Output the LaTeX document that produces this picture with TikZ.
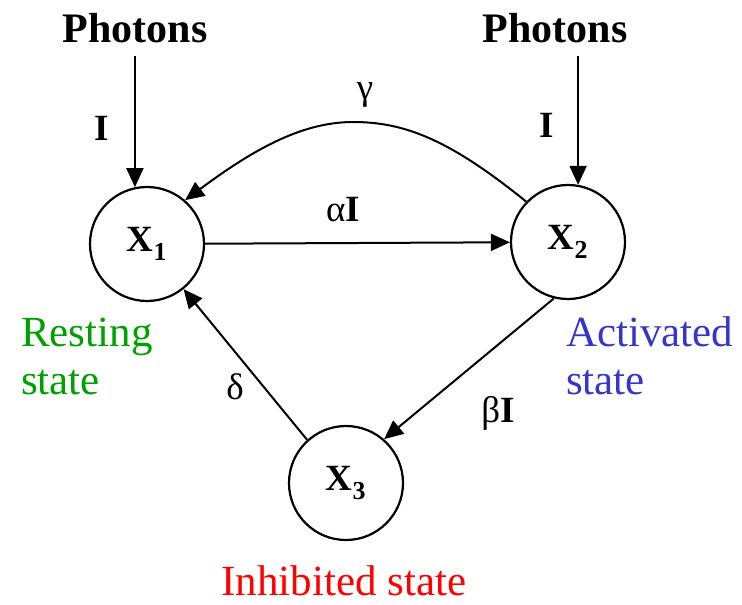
\documentclass[tikz,border=0pt]{standalone}
\usepackage{fontspec}
\setmainfont{Liberation Serif}
\usetikzlibrary{arrows.meta}
\definecolor{restgreen}{HTML}{00A000}
\definecolor{actblue}{HTML}{3535CC}
\definecolor{inhred}{HTML}{FF0000}

\begin{document}
\begin{tikzpicture}[
  x=1pt, y=-1pt,
  >={Triangle[length=19pt, width=17pt]},
  statecircle/.style={
    circle, draw, line width=2.2pt, minimum size=114pt, inner sep=0pt,
    font=\fontsize{37}{40}\selectfont\bfseries
  },
  photon/.style={font=\fontsize{42}{46}\selectfont\bfseries},
  rate/.style={font=\fontsize{37}{40}\selectfont},
  statename/.style 2 args={
    font=\fontsize{43}{48}\selectfont, text=#1, align=#2, inner sep=0pt
  },
  arr/.style={->, line width=2pt},
]

% Canvas
\useasboundingbox (0,0) rectangle (742,605);

% =============================================
% States
% =============================================
\node[statecircle] (x1) at (147,244) {X\textsubscript{1}};
\node[statecircle] (x2) at (568,242) {X\textsubscript{2}};
\node[statecircle] (x3) at (346,483) {X\textsubscript{3}};

% =============================================
% Light input
% =============================================
\node[photon] (ph1) at (135,28) {Photons};
\node[photon] (ph2) at (555,28) {Photons};

\draw[arr, shorten <=10pt] (ph1.south -| x1.102) -- (x1.102);
\draw[arr, shorten <=10pt] (ph2.south -| x2.80) -- (x2.80);

\node[rate, font=\fontsize{37}{40}\selectfont\bfseries] (i1) at (102,128) {I};
\node[rate, font=\fontsize{37}{40}\selectfont\bfseries] (i2) at (547,125) {I};

% =============================================
% Transitions
% =============================================
% gamma: back from X2 to X1 over the top
\draw[arr] (x2.136) .. controls (450,140) and (405,122) .. (353,122)
  .. controls (300,122) and (250,152) .. (x1.49);
\node[rate] (gam) at (365,95) {γ};

% alpha I
\draw[arr] (x1) -- (x2);
\node[rate] (alp) at (343,210) {α\textbf{I}};

% beta I
\draw[arr] (x2.-104) -- (x3.49);
\node[rate] (bet) at (498,413) {β\textbf{I}};

% delta
\draw[arr] (x3.132) -- (x1.-51);
\node[rate] (del) at (235,387) {δ};

% =============================================
% State names
% =============================================
\node[statename={restgreen}{left}, anchor=north west] (rest) at (21,318)
  {Resting\\state};
\node[statename={actblue}{left}, anchor=north west] (act) at (566,316)
  {Activated\\state};
\node[statename={inhred}{center}, anchor=base] (inh) at (344,595)
  {Inhibited state};

\end{tikzpicture}
\end{document}
